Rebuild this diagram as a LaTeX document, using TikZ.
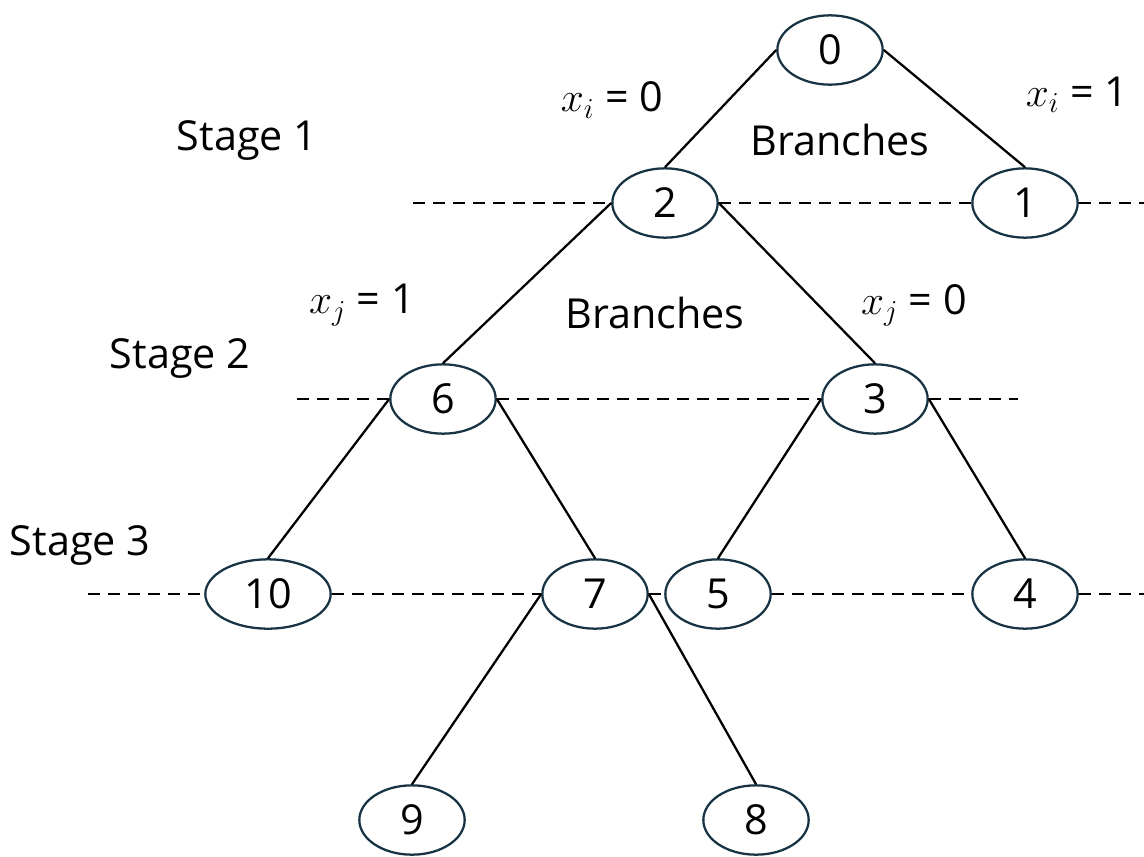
\documentclass[tikz,border=0pt]{standalone}
\usepackage{fix-cm}
\usepackage{fontspec}
\setmainfont{Open Sans}
\usetikzlibrary{shapes.geometric}
\definecolor{nodeblue}{RGB}{24,52,68}

\begin{document}
\begin{tikzpicture}[x=0.75pt,y=-0.75pt,line width=1.7pt,font=\fontsize{31}{36}\selectfont]
      \tikzstyle{bnode}=[ellipse,draw=nodeblue,line width=1.7pt,minimum width=79pt,minimum height=52pt,inner sep=0pt]
      \tikzstyle{cut}=[dash pattern=on 9pt off 6pt,line width=1.6pt]
      \useasboundingbox (0,0) rectangle (1144,856);

      % the tree
      \node[bnode]		(n0) at (830,50) {0};
      \node[bnode]		(n2) at (665,203) {2};
      \node[bnode]		(n1) at (1025,203) {1};
      \node[bnode]		(n6) at (443,399) {6};
      \node[bnode]		(n3) at (875,399) {3};
      \node[bnode,minimum width=94pt]	(n10) at (268,594) {10};
      \node[bnode]		(n7) at (595,594) {7};
      \node[bnode]		(n5) at (718,594) {5};
      \node[bnode]		(n4) at (1025,594) {4};
      \node[bnode]		(n9) at (412,820) {9};
      \node[bnode]		(n8) at (756,820) {8};

      % labels
      \node (xi0) at (612,100) {$x_i$ = 0};
      \node (xi1) at (1077,95) {$x_i$ = 1};
      \node (br1) at (840,140) {Branches};
      \node (st1) at (247,140) {Stage 1};
      \node (xj1) at (362,305) {$x_j$ = 1};
      \node (br2) at (655,313) {Branches};
      \node (xj0) at (914,305) {$x_j$ = 0};
      \node (st2) at (180,358) {Stage 2};
      \node (st3) at (80,545) {Stage 3};

      % ends of the stage lines
      \coordinate (a1) at (413,203);
      \coordinate (b1) at (1144,203);
      \coordinate (a2) at (297,399);
      \coordinate (b2) at (1018,399);
      \coordinate (a3) at (88,594);
      \coordinate (b3) at (1144,594);

      \path
	(n0.west) edge		(n2.north)
	(n0.east) edge		(n1.north)
	(n2.west) edge		(n6.north)
	(n2.east) edge		(n3.north)
	(n6.west) edge		(n10.north)
	(n6.east) edge		(n7.north)
	(n3.west) edge		(n5.north)
	(n3.east) edge		(n4.north)
	(n7.west) edge		(n9.north)
	(n7.east) edge		(n8.north);

      \path
	(a1) edge [cut]		(n2.west)
	(n2.east) edge [cut]	(n1.west)
	(n1.east) edge [cut]	(b1)
	(a2) edge [cut]		(n6.west)
	(n6.east) edge [cut]	(n3.west)
	(n3.east) edge [cut]	(b2)
	(a3) edge [cut]		(n10.west)
	(n10.east) edge [cut]	(n7.west)
	(n7.east) edge [cut]	(n5.west)
	(n5.east) edge [cut]	(n4.west)
	(n4.east) edge [cut]	(b3);
\end{tikzpicture}
\end{document}
